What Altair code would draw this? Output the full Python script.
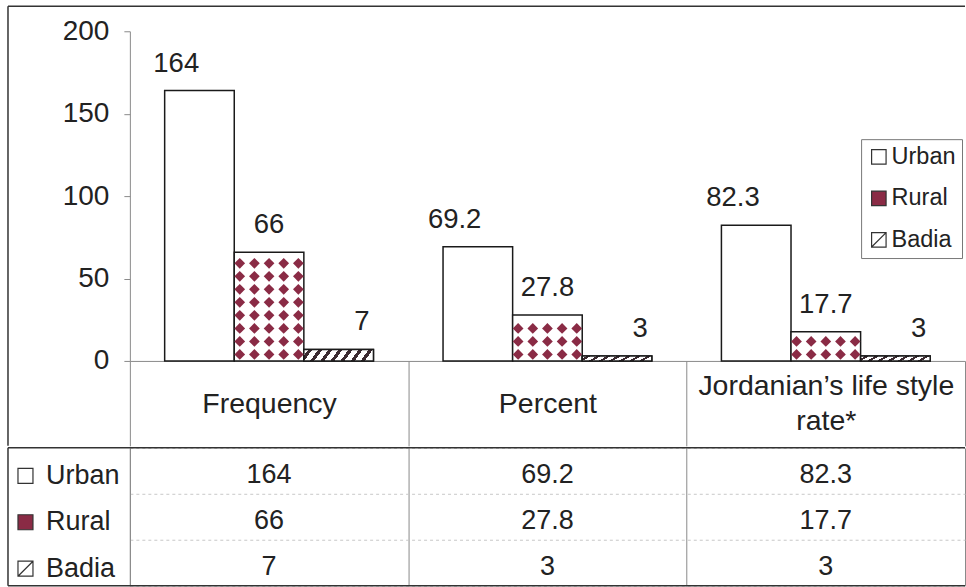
import altair as alt
import pandas as pd

# ---- data -------------------------------------------------------------
categories = ["Frequency", "Percent", "Jordanian’s life style\nrate*"]
series = ["Urban", "Rural", "Badia"]
urban = [164, 69.2, 82.3]
rural = [66, 27.8, 17.7]
badia = [7, 3, 3]

rows = []
for name, vals in zip(series, [urban, rural, badia]):
    for cat, v in zip(categories, vals):
        rows.append({"category": cat, "series": name, "value": v})
df = pd.DataFrame(rows)

# diamond fill pattern of the Rural bars: five columns per bar,
# rows stacked from the base while a whole diamond still fits
DOT_STEP = 7.9
DOT_HALF = 3.0
dot_rows = []
for cat, v in zip(categories, rural):
    j = 0
    while (j + 0.5) * DOT_STEP + DOT_HALF <= v:
        for c in range(5):
            dot_rows.append({"category": cat, "slot": f"Rural{c}",
                             "value": (j + 0.5) * DOT_STEP})
        j += 1
dots = pd.DataFrame(dot_rows)
# sub-slots inside each category band: two spare slots on either side
# keep the pattern columns aligned with the bars
slot_domain = (["gapL0", "gapL1"]
               + [f"{s}{c}" for s in series for c in range(5)]
               + ["gapR0", "gapR1"])

one = pd.DataFrame({"k": [0]})

# ---- styling ----------------------------------------------------------
W, H, HEADER, TABLE_H = 836, 330, 85, 138
TEXT = "#222222"
AXIS = "#8a8a8a"
FRAME = "#333333"
OUTLINE = "#1a1a1a"
MAROON = "#8a2b45"
HATCH = "#3b2a30"

p = 1 / 7
stops = [{"color": "white", "offset": 0}]
for k in range(7):
    a = k * p + 0.45 * p
    b = a + 0.4 * p
    stops += [{"color": "white", "offset": round(a, 4)},
              {"color": HATCH, "offset": round(a, 4)},
              {"color": HATCH, "offset": round(b, 4)},
              {"color": "white", "offset": round(b, 4)}]
stops.append({"color": "white", "offset": 1})
hatch = {"gradient": "linear", "x1": 0, "y1": 0, "x2": 1, "y2": 0.12,
         "stops": stops}

square = "M-1,-1H1V1H-1Z"
square_slash = "M-1,-1H1V1H-1Z M-1,1L1,-1"
fill_scale = alt.Scale(domain=series, range=["white", MAROON, "white"])
shape_scale = alt.Scale(domain=series, range=[square, square, square_slash])
stroke_scale = alt.Scale(domain=series, range=[FRAME, FRAME, FRAME])

x_scale = alt.Scale(domain=categories, paddingInner=0, paddingOuter=0)
off_scale = alt.Scale(domain=series, paddingInner=0, paddingOuter=0.5)
slot_scale = alt.Scale(domain=slot_domain, paddingInner=0, paddingOuter=0.5)

# category names are centred in the header row: one-line names get a
# blank half line above, two-line names a blank half line between
# (a zero-width space keeps the blank line from being trimmed away)
BLANK = "\u200b"
header_expr = ("indexof(datum.label, '\\n') >= 0 ? "
               f"[split(datum.label, '\\n')[0], '{BLANK}', "
               f"split(datum.label, '\\n')[1]] : ['{BLANK}', datum.label]")

x_top = alt.X(
    "category:N", scale=x_scale, title=None,
    axis=alt.Axis(domainColor=AXIS, tickColor=AXIS, tickBand="extent",
                  tickSize=HEADER, labelFontSize=28.5, labelColor=TEXT,
                  labelPadding=-60, labelBaseline="middle",
                  labelLineHeight=17.5, labelAngle=0, labelLimit=320,
                  labelOverlap=False, labelExpr=header_expr))
y_top = alt.Y(
    "value:Q", scale=alt.Scale(domain=[0, 200], nice=False), title=None,
    axis=alt.Axis(values=[0, 50, 100, 150, 200], grid=False,
                  domainColor=AXIS, tickColor=AXIS, tickSize=6,
                  labelFontSize=28, labelColor=TEXT, labelPadding=15))

# ---- bar chart --------------------------------------------------------
base = alt.Chart(df)

bars = base.mark_bar(fill="white", stroke=OUTLINE, strokeWidth=1.5).encode(
    x=x_top, y=y_top, xOffset=alt.XOffset("series:N", scale=off_scale))

badia_bars = base.transform_filter(alt.datum.series == "Badia").mark_bar(
    fill=hatch, stroke=OUTLINE, strokeWidth=1.5).encode(
    x=x_top, y=y_top, xOffset=alt.XOffset("series:N", scale=off_scale))

diamonds = alt.Chart(dots).mark_point(
    shape="diamond", filled=True, size=115, color=MAROON, opacity=1).encode(
    x=x_top, y=y_top, xOffset=alt.XOffset("slot:N", scale=slot_scale))

labels = base.mark_text(fontSize=27.5, color=TEXT, baseline="alphabetic",
                        dy=-19).encode(
    x=x_top, y=y_top, xOffset=alt.XOffset("series:N", scale=off_scale),
    text="value:Q")


def key_layer(legend):
    """Invisible layer that only carries the series key."""
    return base.transform_filter("datum.value < 0").mark_point(
        filled=True).encode(
        fill=alt.Fill("series:N", scale=fill_scale, legend=legend),
        shape=alt.Shape("series:N", scale=shape_scale, legend=legend),
        stroke=alt.Stroke("series:N", scale=stroke_scale, legend=legend))


top_legend = alt.Legend(
    orient="none", legendX=732, legendY=108, title=None, padding=6,
    strokeColor="#777777", fillColor="white", symbolSize=210,
    symbolStrokeWidth=1.2, symbolOpacity=1,
    labelFontSize=23.5, labelColor=TEXT, labelOffset=1, rowPadding=16.5)

frame_top = alt.Chart(one).mark_rule(color=FRAME, strokeWidth=1.5).encode(
    x=alt.value(-122), x2=alt.value(W), y=alt.value(-25))
frame_left_top = alt.Chart(one).mark_rule(color=FRAME, strokeWidth=1.5).encode(
    x=alt.value(-122), y=alt.value(-25), y2=alt.value(H + HEADER))

top = alt.layer(
    bars, badia_bars, diamonds, labels, key_layer(top_legend),
    frame_top, frame_left_top
).resolve_scale(xOffset="independent").properties(width=W, height=H)

# ---- data table -------------------------------------------------------
x_tab = alt.X(
    "category:N", scale=x_scale, title=None,
    axis=alt.Axis(labels=False, ticks=False, domain=False, grid=True,
                  gridColor=AXIS, tickBand="extent"))
y_tab = alt.Y(
    "series:N", scale=alt.Scale(domain=series, paddingInner=0,
                                paddingOuter=0), title=None,
    axis=alt.Axis(labels=False, ticks=False, domainColor=AXIS, grid=True,
                  gridColor="#c8c8c8", gridDash=[3, 3], tickBand="extent"))

cells = base.mark_text(fontSize=27, color=TEXT, baseline="middle",
                       dy=4).encode(x=x_tab, y=y_tab, text="value:Q")

row_legend = alt.Legend(
    orient="none", legendX=-118, legendY=14.5, title=None, padding=0,
    symbolSize=225, symbolStrokeWidth=1.2, symbolOpacity=1,
    labelFontSize=27, labelColor=TEXT, labelOffset=7, rowPadding=18.5)

rule = alt.Chart(one).mark_rule(color=FRAME, strokeWidth=1.5)
t_top = rule.encode(x=alt.value(-122), x2=alt.value(W), y=alt.value(0))
t_bottom = rule.encode(x=alt.value(-122), x2=alt.value(W),
                       y=alt.value(TABLE_H))
t_left = rule.encode(x=alt.value(-122), y=alt.value(0),
                     y2=alt.value(TABLE_H))

bottom = alt.layer(cells, key_layer(row_legend), t_top, t_bottom,
                   t_left).properties(width=W, height=TABLE_H)

chart = alt.vconcat(top, bottom, spacing=0).resolve_scale(
    fill="independent", shape="independent", stroke="independent"
).resolve_legend(
    fill="independent", shape="independent", stroke="independent"
).properties(
    padding={"left": 7, "top": 5, "right": 0, "bottom": 0},
    background="white"
).configure(font="Liberation Sans").configure_view(strokeWidth=0)

chart.save("out.html", embed_options={"renderer": "svg", "actions": False})
